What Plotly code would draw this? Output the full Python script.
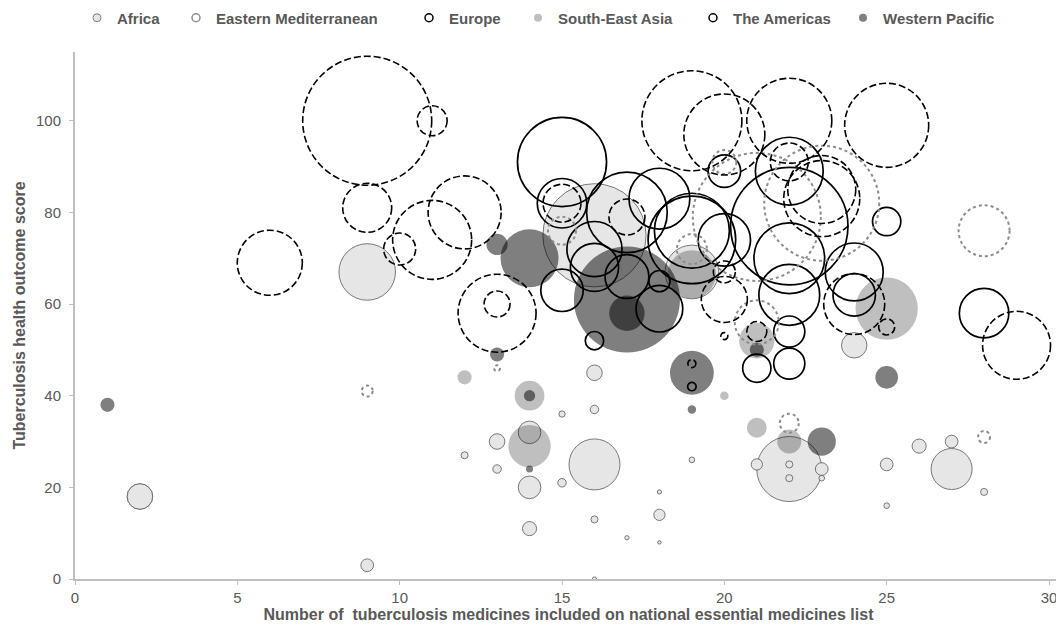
import math
import plotly.graph_objects as go

# ---------------- data (x = medicines on list, y = outcome score, v = bubble value) ----------------
africa_x = [22, 16, 9, 19, 24, 2, 2, 9, 12, 13, 13, 14, 14, 14, 15, 15, 16, 16, 16, 16, 16, 17, 18, 18, 18, 19, 21, 22, 22, 23, 23, 25, 25, 26, 27, 27, 28]
africa_y = [24, 75, 67, 67, 51, 18, 18, 3, 27, 30, 24, 32, 20, 11, 36, 21, 45, 37, 25, 13, 0, 9, 14, 8, 19, 26, 25, 25, 22, 24, 22, 25, 16, 29, 30, 24, 19]
africa_v = [21.2, 53.3, 16.0, 14.4, 3.24, 3.24, 3.24, 0.81, 0.25, 1.21, 0.36, 2.56, 2.56, 1.0, 0.2, 0.36, 1.21, 0.36, 13.0, 0.25, 0.09, 0.09, 0.64, 0.06, 0.09, 0.16, 0.64, 0.25, 0.25, 0.81, 0.16, 0.81, 0.16, 1.0, 0.81, 8.41, 0.25]

emed_x = [21, 23, 28, 15, 19, 20, 21, 22, 28, 9, 13]
emed_y = [79, 82, 76, 76, 72, 91, 56, 34, 31, 41, 46]
emed_v = [163.8, 132.3, 26.0, 7.84, 9.0, 5.76, 19.4, 3.61, 1.44, 1.21, 0.36]

europe_x = [9, 11, 9, 6, 10, 11, 12, 13, 13, 15, 17, 19, 20, 22, 25, 22, 23, 23, 20, 21, 19, 20, 20, 24, 25, 29]
europe_y = [100, 100, 81, 69, 72, 74, 80, 58, 60, 82, 79, 100, 97, 100, 99, 91, 85, 83, 61, 54, 47, 53, 67, 60, 55, 51]
europe_v = [166.4, 9.0, 24.0, 42.3, 10.24, 62.4, 53.3, 60.8, 6.76, 14.4, 12.96, 100.0, 65.6, 72.3, 70.6, 14.4, 46.2, 57.8, 21.2, 4.0, 0.64, 0.49, 4.84, 37.2, 2.56, 46.2]

sea_x = [19, 25, 12, 14, 14, 20, 21, 22, 21]
sea_y = [66.5, 59, 44, 40, 29, 40, 33, 30, 52]
sea_v = [11.6, 19.4, 1.0, 4.41, 9.0, 0.36, 1.96, 2.89, 6.25]

americas_x = [15, 15, 16, 16, 17, 18, 17, 18, 18, 16, 15, 19, 19, 20, 22, 22, 22, 22, 22, 21, 24, 24, 25, 28, 20, 22, 19]
americas_y = [91, 82, 72, 68, 80, 83, 66, 65, 59, 52, 63, 74, 76, 74, 77, 70, 62, 54, 47, 46, 67, 62, 78, 58, 89, 89, 42]
americas_v = [39.7, 12.25, 15.2, 11.6, 32.5, 18.5, 9.61, 2.25, 10.9, 1.69, 9.0, 38.4, 28.1, 13.7, 68.9, 25.0, 18.5, 4.84, 4.84, 4.0, 16.8, 9.0, 4.0, 12.25, 5.29, 23.0, 0.36]

wpac_x = [1, 13, 14, 13, 14, 14, 17, 17, 21, 25, 19, 23, 19]
wpac_y = [38, 73, 70, 49, 40, 24, 61, 58, 50, 44, 45, 30, 37]
wpac_v = [1.0, 2.25, 16.8, 1.0, 0.64, 0.25, 56.25, 6.25, 1.0, 2.56, 9.61, 4.0, 0.36]

region_names = ["Africa", "Eastern Mediterranean", "Europe", "South-East Asia", "The Americas", "Western Pacific"]
x_ticks = [0, 5, 10, 15, 20, 25, 30]
y_ticks = [0, 20, 40, 60, 80, 100]

# ---------------- figure ----------------
SIZEREF = 0.01
FONT = "Liberation Sans, Arial, sans-serif"
GREY_TXT = "#595959"
FIG_W, FIG_H = 1056, 626

fig = go.Figure()

def bubbles(xs, ys, vs, fill, line_color, line_width):
    fig.add_trace(go.Scatter(
        x=xs, y=ys, mode="markers", showlegend=False, hoverinfo="skip",
        marker=dict(size=vs, sizemode="area", sizeref=SIZEREF, sizemin=1, opacity=1,
                    color=fill, line=dict(color=line_color, width=line_width))))

bubbles(africa_x, africa_y, africa_v, "#e6e6e6", "rgba(70,70,70,0.7)", 1)
bubbles(sea_x, sea_y, sea_v, "rgba(0,0,0,0.25)", "rgba(0,0,0,0)", 0)
bubbles(americas_x, americas_y, americas_v, "rgba(0,0,0,0)", "#000000", 1.7)
bubbles(wpac_x, wpac_y, wpac_v, "rgba(0,0,0,0.5)", "rgba(0,0,0,0)", 0)

shapes = []
def ring_shapes(xs, ys, vs, color, width, dash):
    for x, y, v in zip(xs, ys, vs):
        r = math.sqrt(v / SIZEREF) / 2
        shapes.append(dict(type="circle", xref="x", yref="y",
                           xsizemode="pixel", ysizemode="pixel",
                           xanchor=x, yanchor=y, x0=-r, x1=r, y0=-r, y1=r,
                           line=dict(color=color, width=width, dash=dash),
                           fillcolor="rgba(0,0,0,0)", layer="above"))

ring_shapes(emed_x, emed_y, emed_v, "#8c8c8c", 2, "3px,3px")
ring_shapes(europe_x, europe_y, europe_v, "#000000", 1.6, "7px,3px")

# legend-only entries, one small legend each so they sit where the reference has them
legend_styles = [
    dict(color="#e6e6e6", line=dict(color="#7f7f7f", width=1)),
    dict(color="#ffffff", line=dict(color="#8c8c8c", width=1.5)),
    dict(color="#ffffff", line=dict(color="#000000", width=1.5)),
    dict(color="#bfbfbf", line=dict(color="#bfbfbf", width=0)),
    dict(color="#ffffff", line=dict(color="#000000", width=1.5)),
    dict(color="#7f7f7f", line=dict(color="#7f7f7f", width=0)),
]
legend_left_px = [69, 168, 401, 510, 685, 835]   # left edge of each legend box in figure pixels
legend_ids = ["legend", "legend2", "legend3", "legend4", "legend5", "legend6"]
for name, st, lid in zip(region_names, legend_styles, legend_ids):
    fig.add_trace(go.Scatter(x=[None], y=[None], mode="markers", name=name, legend=lid,
                             marker=dict(size=8, symbol="circle", **st)))

axis_common = dict(showline=True, linecolor="#bfbfbf", linewidth=2, ticks="outside",
                   ticklen=4, tickcolor="#bfbfbf", tickwidth=1, showgrid=False, zeroline=False,
                   tickfont=dict(family=FONT, size=15, color=GREY_TXT))

legends = {}
for lid, lpx in zip(legend_ids, legend_left_px):
    legends[lid] = dict(orientation="h", xref="container", yref="container",
                        x=lpx / FIG_W, xanchor="left", y=1 - 10 / FIG_H, yanchor="middle",
                        font=dict(family=FONT, size=15, color=GREY_TXT, weight="bold"),
                        itemwidth=30, bgcolor="rgba(0,0,0,0)")

fig.update_layout(
    width=FIG_W, height=FIG_H,
    margin=dict(l=67, r=2, t=44, b=55, autoexpand=False),
    paper_bgcolor="white", plot_bgcolor="white",
    font=dict(family=FONT, color=GREY_TXT),
    shapes=shapes,
    xaxis=dict(range=[0, 30.4], tickvals=x_ticks,
               title=dict(text="Number of  tuberculosis medicines included on national essential medicines list",
                          font=dict(family=FONT, size=16, color=GREY_TXT, weight="bold"), standoff=0),
               **axis_common),
    yaxis=dict(range=[0, 115], tickvals=y_ticks, ticklabelstandoff=5,
               title=dict(text="Tuberculosis health outcome score",
                          font=dict(family=FONT, size=16, color=GREY_TXT, weight="bold"), standoff=6),
               **axis_common),
    **legends,
)

fig.write_html("out.html")
